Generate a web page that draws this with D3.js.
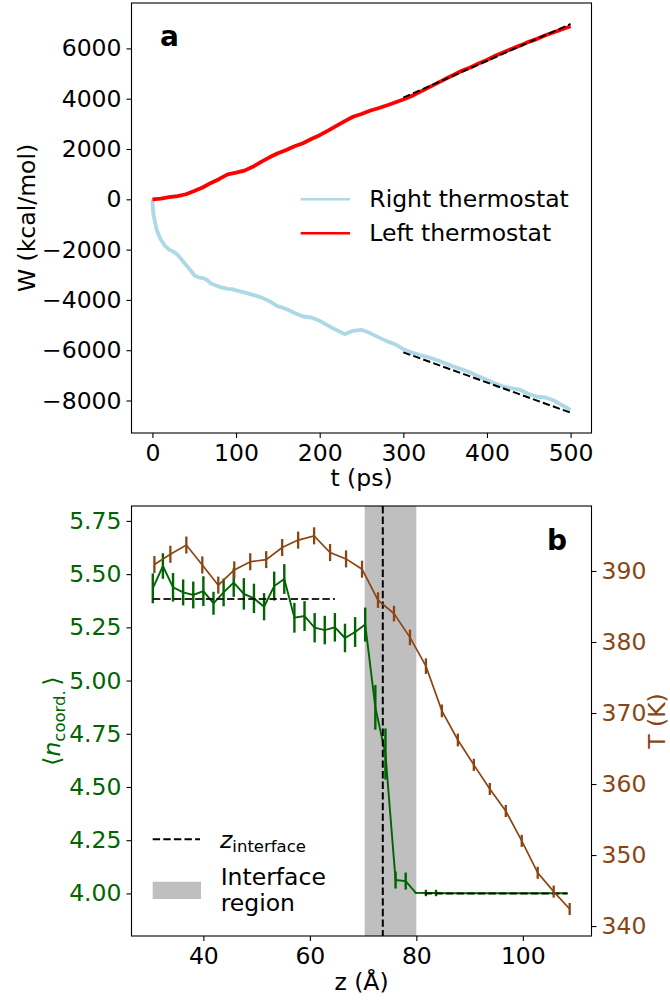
<!DOCTYPE html>
<html>
<head>
<meta charset="utf-8">
<script src="https://cdn.jsdelivr.net/npm/d3@7"></script>
<style>
  body { margin: 0; background: #fff; }
  svg { display: block; font-family: "DejaVu Sans", sans-serif; }
</style>
</head>
<body>
<div id="chart"></div>
<script>
// ---- panel a : heat exchanged by the thermostats ----
var tLeft = [0, 10, 20, 30, 40, 50, 60, 70, 80, 90, 100, 110, 120, 130, 140, 150, 160, 170, 180, 190,
  200, 210, 220, 230, 240, 250, 260, 270, 280, 290, 300, 310, 320, 330, 340, 350, 360, 370, 380, 390,
  400, 410, 420, 430, 440, 450, 460, 470, 480, 490, 500];
var wLeft = [0, 30, 85, 125, 200, 330, 470, 650, 810, 990, 1060, 1140, 1290, 1490, 1670, 1830, 1960, 2110, 2230, 2400,
  2550, 2730, 2920, 3110, 3280, 3390, 3520, 3620, 3730, 3850, 3970, 4110, 4270, 4440, 4610, 4780, 4940, 5110, 5240, 5400,
  5540, 5710, 5850, 5990, 6120, 6260, 6380, 6520, 6640, 6760, 6880];

var tRight = [0, 1, 3, 5, 8, 10, 15, 20, 25, 30, 35, 40, 45, 50, 55, 60, 65, 70, 80, 90,
  95, 100, 110, 120, 130, 140, 150, 155, 160, 170, 180, 190, 200, 210, 220, 230, 240, 250, 260, 270,
  280, 290, 300, 310, 320, 330, 340, 350, 360, 370, 380, 390, 400, 410, 420, 430, 440, 450, 460, 470,
  480, 490, 500];
var wRight = [0, -550, -900, -1200, -1450, -1600, -1850, -2000, -2080, -2200, -2400, -2600, -2800, -3020, -3100, -3130, -3200, -3350, -3480, -3560,
  -3570, -3620, -3700, -3800, -3900, -4050, -4260, -4300, -4360, -4520, -4660, -4700, -4830, -5020, -5200, -5360, -5230, -5190, -5320, -5480,
  -5640, -5760, -5960, -6090, -6190, -6280, -6390, -6520, -6650, -6760, -6890, -7040, -7180, -7330, -7450, -7520, -7580, -7740, -7850, -7880,
  -8000, -8190, -8370];

var fitT = [300, 500];
var fitLeft = [4040, 6970];
var fitRight = [-6084, -8485];

var tTicks = [0, 100, 200, 300, 400, 500];
var wTicks = [-8000, -6000, -4000, -2000, 0, 2000, 4000, 6000];

// ---- panel b : coordination number and temperature profile ----
var zCoord = [30.5, 32.4, 34.3, 36.2, 38.1, 40.0, 41.9, 43.8, 45.7, 47.6, 49.5, 51.4, 53.3, 55.2, 57.1, 59.0,
  60.9, 62.8, 64.7, 66.6, 68.5, 70.4, 72.3, 74.2, 76.1, 78.0, 79.9, 81.8, 83.7, 85.6, 87.5, 89.4, 91.3, 93.2,
  95.1, 97.0, 98.9, 100.8, 102.7, 104.6, 106.5, 108.4];
var nCoord = [5.433, 5.538, 5.438, 5.414, 5.402, 5.420, 5.363, 5.414, 5.460, 5.407, 5.386, 5.347, 5.444, 5.477, 5.295, 5.303,
  5.248, 5.237, 5.250, 5.200, 5.228, 5.263, 4.874, 4.655, 4.063, 4.058, 4.003, 4.002, 4.002, 4.001, 4.001, 4.001, 4.001, 4.001,
  4.001, 4.001, 4.001, 4.001, 4.001, 4.001, 4.001, 4.001];
var nErr = [0.070, 0.060, 0.067, 0.061, 0.063, 0.070, 0.054, 0.065, 0.067, 0.074, 0.069, 0.064, 0.068, 0.070, 0.070, 0.070,
  0.069, 0.067, 0.067, 0.067, 0.070, 0.080, 0.105, 0.120, 0.040, 0.040, 0.004, 0.015, 0.015, 0, 0, 0, 0, 0,
  0, 0, 0, 0, 0, 0, 0, 0];

var zTemp = [30.8, 33.8, 36.8, 39.8, 42.8, 45.8, 48.8, 51.8, 54.8, 57.8, 60.8, 63.8, 66.8, 69.8, 72.8, 75.8,
  78.8, 81.8, 84.8, 87.8, 90.8, 93.8, 96.8, 99.8, 102.8, 105.8, 108.8];
var temp = [390.9, 392.35, 393.65, 390.85, 388.0, 390.15, 391.3, 391.6, 393.3, 394.35, 394.95, 392.6, 391.7, 390.25, 385.9, 384.0,
  380.65, 376.6, 370.3, 366.2, 362.7, 359.3, 356.2, 352.0, 347.5, 344.85, 342.4];
var tempErr = [1.2, 1.2, 1.2, 1.2, 1.2, 1.2, 1.2, 1.2, 1.2, 1.2, 1.2, 1.2, 1.2, 1.2, 1.1, 1.1,
  1.1, 1.1, 0.9, 0.9, 0.85, 0.85, 0.85, 0.85, 0.85, 0.85, 0.85];

var bulkHighZ = [30.5, 64.7], bulkHighN = 5.383;
var bulkLowZ = [81.6, 108.4], bulkLowN = 4.0;
var zInterface = 73.7;
var interfaceRegion = [70.3, 80.0];

var zTicks = [40, 60, 80, 100];
var nTicks = [4.00, 4.25, 4.50, 4.75, 5.00, 5.25, 5.50, 5.75];
var TTicks = [340, 350, 360, 370, 380, 390];

var green = "#006400", brown = "#8b4513";
var fs = 23.5, fsSub = 16.5;
var minus = function(s) { return String(s).replace("-", "\u2212"); };

var svg = d3.select("#chart").append("svg")
  .attr("width", 670).attr("height", 1003);

function styleAxis(g, color) {
  g.select(".domain").remove();
  g.selectAll(".tick line").attr("stroke", "#000").attr("stroke-width", 1.1);
  g.selectAll(".tick text").attr("fill", color || "#000")
    .style("font-size", fs + "px").style("font-family", "DejaVu Sans");
}

// ================= panel a =================
var xa = d3.scaleLinear().domain([-25, 525]).range([131.5, 591.5]);
var ya = d3.scaleLinear().domain([-9292, 7805]).range([433, 3]);

var lineA = d3.line().x(function(d) { return xa(d[0]); }).y(function(d) { return ya(d[1]); });

var ga = svg.append("g");
ga.append("path")
  .attr("d", lineA(d3.zip(tRight, wRight)))
  .attr("fill", "none").attr("stroke", "#add8e6").attr("stroke-width", 3.8)
  .attr("stroke-linejoin", "round");
ga.append("path")
  .attr("d", lineA(d3.zip(tLeft, wLeft)))
  .attr("fill", "none").attr("stroke", "red").attr("stroke-width", 3.8)
  .attr("stroke-linejoin", "round");
[fitLeft, fitRight].forEach(function(f) {
  ga.append("path")
    .attr("d", lineA(d3.zip(fitT, f)))
    .attr("fill", "none").attr("stroke", "#000").attr("stroke-width", 2)
    .attr("stroke-dasharray", "7.4,3.2");
});

svg.append("g").attr("transform", "translate(0,433)")
  .call(d3.axisBottom(xa).tickValues(tTicks).tickSize(5).tickPadding(6))
  .call(styleAxis);
svg.append("g").attr("transform", "translate(131.5,0)")
  .call(d3.axisLeft(ya).tickValues(wTicks).tickSize(5).tickPadding(5).tickFormat(function(d) { return minus(d); }))
  .call(styleAxis);
svg.append("rect").attr("x", 131.5).attr("y", 3).attr("width", 460).attr("height", 430)
  .attr("fill", "none").attr("stroke", "#000").attr("stroke-width", 1.1);

svg.append("text").attr("x", 160).attr("y", 46).text("a")
  .style("font-size", "28px").style("font-weight", "bold");
svg.append("text").attr("x", 361.5).attr("y", 486).attr("text-anchor", "middle")
  .style("font-size", fs + "px").text("t (ps)");
svg.append("text").attr("transform", "translate(35,218) rotate(-90)").attr("text-anchor", "middle")
  .style("font-size", fs + "px").text("W (kcal/mol)");

// legend a
var legA = [["Right thermostat", "#add8e6", 199.3], ["Left thermostat", "red", 233.3]];
legA.forEach(function(l) {
  svg.append("line").attr("x1", 300.7).attr("x2", 350).attr("y1", l[2]).attr("y2", l[2])
    .attr("stroke", l[1]).attr("stroke-width", 2.5);
  svg.append("text").attr("x", 369.3).attr("y", l[2] + 8)
    .style("font-size", fs + "px").text(l[0]);
});

// ================= panel b =================
var xb = d3.scaleLinear().domain([26.5, 112.9]).range([131.5, 591.5]);
var yn = d3.scaleLinear().domain([3.80, 5.82]).range([936, 506]);
var yT = d3.scaleLinear().domain([338.6, 399.15]).range([936, 506]);

var gb = svg.append("g");
gb.append("rect")
  .attr("x", xb(interfaceRegion[0])).attr("y", 506)
  .attr("width", xb(interfaceRegion[1]) - xb(interfaceRegion[0])).attr("height", 430)
  .attr("fill", "#bfbfbf");

// coordination number
var lineN = d3.line().x(function(d) { return xb(d[0]); }).y(function(d) { return yn(d[1]); });
gb.append("path").attr("d", lineN(d3.zip(zCoord, nCoord)))
  .attr("fill", "none").attr("stroke", green).attr("stroke-width", 1.9);
gb.selectAll("line.nerr").data(d3.zip(zCoord, nCoord, nErr)).enter().append("line")
  .attr("x1", function(d) { return xb(d[0]); }).attr("x2", function(d) { return xb(d[0]); })
  .attr("y1", function(d) { return yn(d[1] - d[2]); }).attr("y2", function(d) { return yn(d[1] + d[2]); })
  .attr("stroke", green).attr("stroke-width", 2.4);

[[bulkHighZ, bulkHighN], [bulkLowZ, bulkLowN]].forEach(function(b) {
  gb.append("line").attr("x1", xb(b[0][0])).attr("x2", xb(b[0][1]))
    .attr("y1", yn(b[1])).attr("y2", yn(b[1]))
    .attr("stroke", "#000").attr("stroke-width", 2).attr("stroke-dasharray", "7.4,3.2")
    .attr("opacity", 0.85);
});
gb.append("line").attr("x1", xb(zInterface)).attr("x2", xb(zInterface)).attr("y1", 506).attr("y2", 936)
  .attr("stroke", "#000").attr("stroke-width", 2).attr("stroke-dasharray", "7.4,3.2");

// temperature
var lineT = d3.line().x(function(d) { return xb(d[0]); }).y(function(d) { return yT(d[1]); });
gb.append("path").attr("d", lineT(d3.zip(zTemp, temp)))
  .attr("fill", "none").attr("stroke", brown).attr("stroke-width", 1.7);
gb.selectAll("line.terr").data(d3.zip(zTemp, temp, tempErr)).enter().append("line")
  .attr("x1", function(d) { return xb(d[0]); }).attr("x2", function(d) { return xb(d[0]); })
  .attr("y1", function(d) { return yT(d[1] - d[2]); }).attr("y2", function(d) { return yT(d[1] + d[2]); })
  .attr("stroke", brown).attr("stroke-width", 2.3);

svg.append("g").attr("transform", "translate(0,936)")
  .call(d3.axisBottom(xb).tickValues(zTicks).tickSize(5).tickPadding(6))
  .call(styleAxis);
svg.append("g").attr("transform", "translate(131.5,0)")
  .call(d3.axisLeft(yn).tickValues(nTicks).tickSize(5).tickPadding(5).tickFormat(d3.format(".2f")))
  .call(styleAxis, green);
svg.append("g").attr("transform", "translate(591.5,0)")
  .call(d3.axisRight(yT).tickValues(TTicks).tickSize(5).tickPadding(5))
  .call(styleAxis, brown);
svg.append("rect").attr("x", 131.5).attr("y", 506).attr("width", 460).attr("height", 430)
  .attr("fill", "none").attr("stroke", "#000").attr("stroke-width", 1.1);

svg.append("text").attr("x", 547).attr("y", 550).text("b")
  .style("font-size", "28px").style("font-weight", "bold");
svg.append("text").attr("x", 361.5).attr("y", 990).attr("text-anchor", "middle")
  .style("font-size", fs + "px").text("z (\u00c5)");

var nLab = svg.append("text").attr("transform", "translate(60,721) rotate(-90)")
  .attr("text-anchor", "middle").attr("fill", green).style("font-size", fs + "px");
nLab.append("tspan").text("\u27e8");
nLab.append("tspan").style("font-style", "italic").text("n");
nLab.append("tspan").attr("dy", 5).style("font-size", fsSub + "px").text("coord.");
nLab.append("tspan").attr("dy", -5).text("\u2009\u27e9");

svg.append("text").attr("transform", "translate(665,721) rotate(-90)")
  .attr("text-anchor", "middle").attr("fill", brown).style("font-size", fs + "px").text("T (K)");

// legend b
svg.append("line").attr("x1", 152.7).attr("x2", 200).attr("y1", 839.3).attr("y2", 839.3)
  .attr("stroke", "#000").attr("stroke-width", 2).attr("stroke-dasharray", "7.4,3.2");
var zl = svg.append("text").attr("x", 220).attr("y", 847.5).style("font-size", fs + "px");
zl.append("tspan").style("font-style", "italic").text("z");
zl.append("tspan").attr("dy", 4).style("font-size", fsSub + "px").text("interface");
svg.append("rect").attr("x", 152.7).attr("y", 881.7).attr("width", 48.3).attr("height", 17.3)
  .attr("fill", "#bfbfbf");
svg.append("text").attr("x", 220.7).attr("y", 884.5).style("font-size", fs + "px").text("Interface");
svg.append("text").attr("x", 220.7).attr("y", 911).style("font-size", fs + "px").text("region");
</script>
</body>
</html>
